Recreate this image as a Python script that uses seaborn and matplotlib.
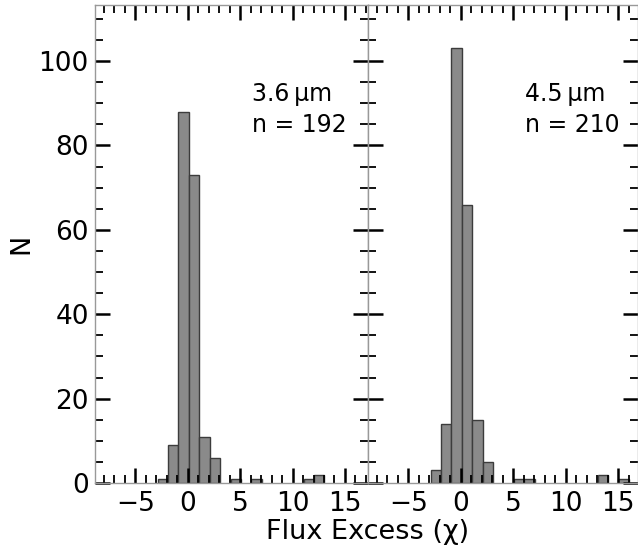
import numpy as np
import matplotlib
matplotlib.use("Agg")
import matplotlib.pyplot as plt
from matplotlib.ticker import MultipleLocator
import seaborn as sns
import pandas as pd

# ---- data ----
bin_start = -2.88
bin_width = 0.995
n_bins = 19
counts_36 = [1, 9, 88, 73, 11, 6, 0, 1, 0, 1, 0, 0, 0, 0, 1, 2, 0, 0, 0]
counts_45 = [3, 14, 103, 66, 15, 5, 0, 0, 1, 1, 0, 0, 0, 0, 0, 0, 2, 0, 1]
labels = ["3.6\u2009\u03bcm\nn = 192", "4.5\u2009\u03bcm\nn = 210"]
xticks = [-5, 0, 5, 10, 15]
yticks = [0, 20, 40, 60, 80, 100]

edges = bin_start + bin_width * np.arange(n_bins + 1)
centers = (edges[:-1] + edges[1:]) / 2

plt.rcParams['font.family'] = ['DejaVu Sans']
plt.rcParams['axes.unicode_minus'] = True

fig = plt.figure(figsize=(6.38, 5.5), dpi=100)
W, H = 638, 550
ax1 = fig.add_axes([95 / W, 1 - 483 / H, 273 / W, 478 / H])
ax2 = fig.add_axes([368 / W, 1 - 483 / H, 270 / W, 478 / H])

for ax, counts, lab, xl in [(ax1, counts_36, labels[0], (-8.85, 17.2)),
                           (ax2, counts_45, labels[1], (-8.85, 16.9))]:
    df = pd.DataFrame({"x": centers, "w": counts})
    sns.histplot(data=df, x="x", weights="w", binwidth=bin_width,
                 binrange=(float(edges[0]), float(edges[-1])), ax=ax,
                 color="#8a8a8a", edgecolor="#3c3c3c", linewidth=1.0, alpha=1.0)
    # hide empty bins so they don't draw a line over the bottom spine
    for p in ax.patches:
        if p.get_height() == 0:
            p.set_visible(False)
    ax.set_xlim(*xl)
    ax.set_ylim(0, 113.3)
    ax.set_xticks(xticks)
    ax.set_yticks(yticks)
    ax.xaxis.set_minor_locator(MultipleLocator(1))
    ax.yaxis.set_minor_locator(MultipleLocator(5))
    ax.tick_params(which="both", direction="in", top=True, right=True,
                   bottom=True, left=True, color="black")
    ax.tick_params(which="major", length=11, width=1.8, labelsize=19)
    ax.tick_params(axis="x", which="major", pad=6)
    ax.tick_params(axis="y", which="major", pad=4.5)
    ax.tick_params(which="minor", length=5.5, width=1.3)
    for s in ax.spines.values():
        s.set_color("0.6")
        s.set_linewidth(1.0)
    ax.set_xlabel("")
    ax.set_ylabel("")
    ax.text(6.1, 0.838, lab, transform=ax.get_xaxis_transform(), fontsize=17,
            va="top", ha="left", linespacing=1.35)

ax2.tick_params(labelleft=False)
ax1.set_ylabel("N", fontsize=19.5, labelpad=3)
fig.text(368 / W, 1 - 532 / H, "Flux Excess (\u03c7)", fontsize=19.5,
         ha="center", va="center")

fig.savefig("out.png", dpi=100)
